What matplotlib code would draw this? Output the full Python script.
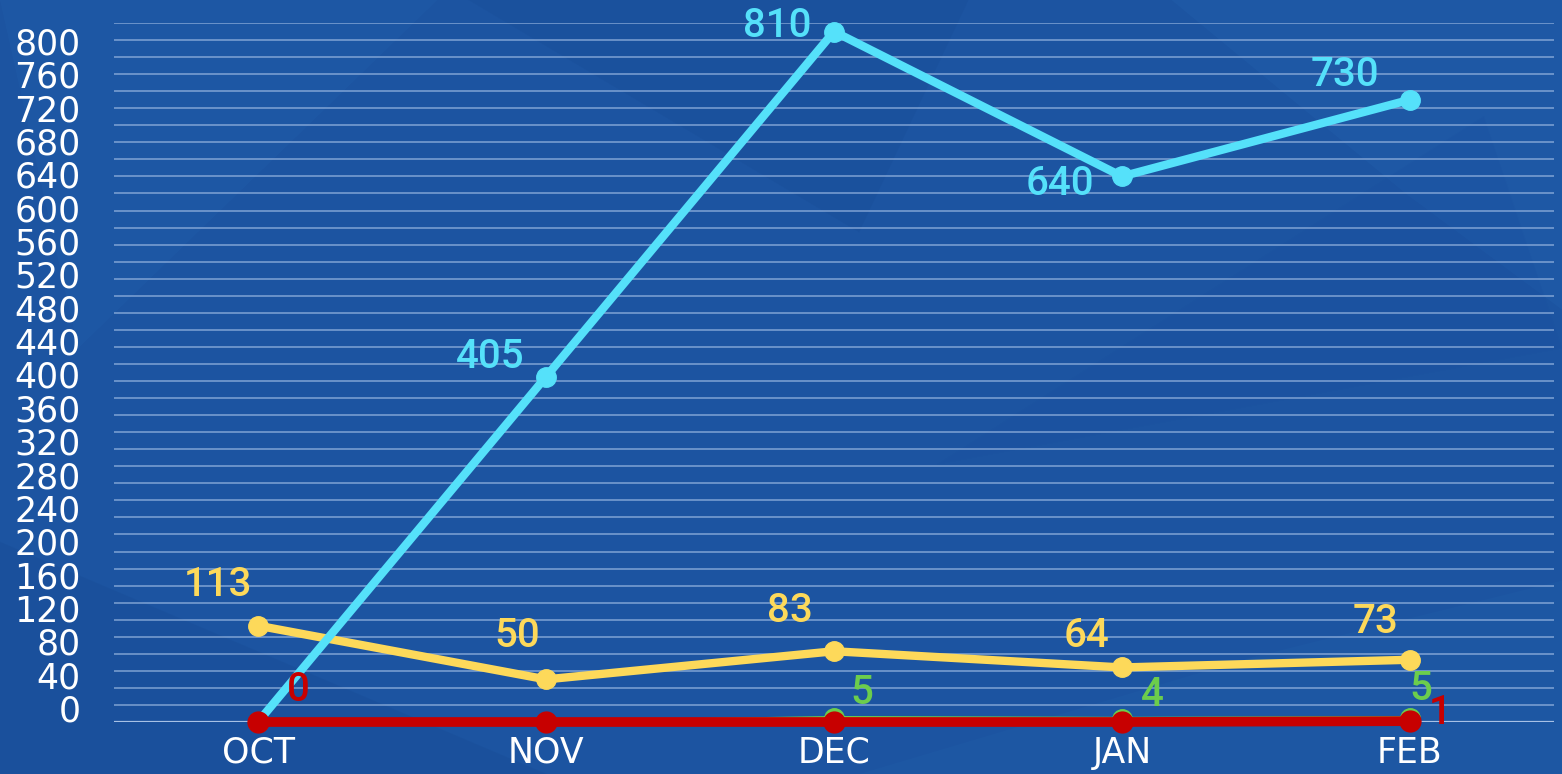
import matplotlib
matplotlib.use("Agg")
from matplotlib import pyplot as plt
from matplotlib.patches import Polygon
from matplotlib.ticker import MultipleLocator
import numpy as np

months = ["OCT", "NOV", "DEC", "JAN", "FEB"]

cyan_vals = [0, 405, 810, 640, 730]
yellow_vals = [113, 50, 83, 64, 73]
green_vals = [0, 0, 5, 4, 5]
red_vals = [0, 0, 0, 0, 1]

# which points carry a label, and where the label sits (pixels from the point)
cyan_labels = [None, "405", "810", "640", "730"]
cyan_offs = [(0, 0), (-56, 20), (-57, 6), (-62, -8), (-65, 25)]
yellow_labels = ["113", "50", "83", "64", "73"]
yellow_offs = [(-40, 41), (-29, 43), (-44, 40), (-35, 31), (-35, 38)]
green_labels = [None, None, "5", "4", "5"]
green_offs = [(0, 0), (0, 0), (28, 25), (30, 24), (11, 29)]
red_labels = ["0", None, None, None, "1"]
red_offs = [(40, 32), (0, 0), (0, 0), (0, 0), (30, 8)]

tick_vals = list(range(0, 801, 40))

BG = "#1c54a1"
CYAN = "#55e1fa"
YELLOW = "#fdd95a"
GREEN = "#6ccd4c"
RED = "#c70000"

fig = plt.figure(figsize=(15.62, 7.74), dpi=100)
fig.patch.set_facecolor(BG)

# faint faceted background shapes, on their own axes behind everything
bg = fig.add_axes([0, 0, 1, 1], zorder=-5)
bg.set_axis_off()
bg.set_xlim(0, 1)
bg.set_ylim(0, 1)
shapes = [
    ([(0.0, 1.0), (0.28, 1.0), (0.05, 0.55)], "#2260ad", 0.3),
    ([(0.3, 1.0), (0.62, 1.0), (0.55, 0.7)], "#174b95", 0.3),
    ([(0.75, 1.0), (1.0, 1.0), (1.0, 0.6), (0.9, 0.75)], "#2363b0", 0.3),
    ([(0.0, 0.0), (0.35, 0.0), (0.0, 0.3)], "#174a93", 0.3),
    ([(0.55, 0.0), (1.0, 0.0), (1.0, 0.25), (0.8, 0.15)], "#2160ab", 0.25),
    ([(0.6, 0.4), (0.95, 0.85), (1.0, 0.55)], "#1a50a0", 0.25),
]
for pts, col, a in shapes:
    bg.add_patch(Polygon(pts, closed=True, facecolor=col, edgecolor="none", alpha=a))

ax = fig.add_axes([114 / 1562, 1 - 722 / 774, (1554 - 114) / 1562, (722 - 23) / 774],
                  zorder=2)
ax.set_facecolor("none")
x = np.arange(len(months))

ax.set_xlim(-0.5, len(months) - 0.5)
ax.set_ylim(0, 820)

ax.yaxis.set_minor_locator(MultipleLocator(20))
ax.grid(which="minor", axis="y", color="#a9c4ea", alpha=0.55, linewidth=1.4)
ax.grid(which="major", visible=False)
ax.axhline(0, color="#c9daf3", linewidth=1.6, alpha=0.8, zorder=1)

for s in ax.spines.values():
    s.set_visible(False)

# tick labels, spread the way the source graphic spreads them
label_pos = [16.4 + i * 39.13 for i in range(len(tick_vals))]
ax.set_yticks(label_pos)
ax.set_yticklabels([str(v) for v in tick_vals])
ax.tick_params(axis="y", which="both", length=0, pad=24, labelsize=25,
               labelcolor="white")
for lab in ax.get_yticklabels():
    lab.set_fontfamily("DejaVu Sans")

ax.set_xticks(x)
ax.set_xticklabels(months)
ax.tick_params(axis="x", length=0, pad=10, labelsize=25, labelcolor="white")
for lab in ax.get_xticklabels():
    lab.set_fontfamily("DejaVu Sans")

ax.plot(x, yellow_vals, color=YELLOW, lw=6, marker="o", ms=14,
        solid_capstyle="round", zorder=3, clip_on=False)
ax.plot(x, cyan_vals, color=CYAN, lw=6, marker="o", ms=14,
        solid_capstyle="round", zorder=4, clip_on=False)
ax.plot(x, green_vals, color=GREEN, lw=2.5, marker="o", ms=14,
        zorder=5, clip_on=False)
ax.plot(x, red_vals, color=RED, lw=7, marker="o", ms=15,
        zorder=6, clip_on=False)


def put_labels(vals, labels, offs, color):
    for xi, v, lab, (dx, dy) in zip(x, vals, labels, offs):
        if lab is None:
            continue
        ax.annotate(lab, (xi, v), xytext=(dx * 0.72, dy * 0.72),
                    textcoords="offset points", ha="center", va="center",
                    fontsize=29, fontweight="medium", color=color,
                    family="Roboto", zorder=7, annotation_clip=False)


put_labels(cyan_vals, cyan_labels, cyan_offs, CYAN)
put_labels(yellow_vals, yellow_labels, yellow_offs, YELLOW)
put_labels(green_vals, green_labels, green_offs, GREEN)
put_labels(red_vals, red_labels, red_offs, RED)

fig.savefig("out.png", dpi=100, facecolor=fig.get_facecolor())
